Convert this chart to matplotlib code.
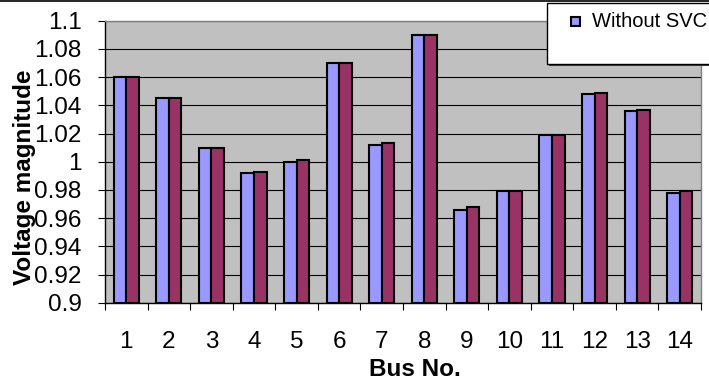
import numpy as np
import matplotlib
matplotlib.use("Agg")
import matplotlib.pyplot as plt
from matplotlib.patches import Rectangle
from matplotlib.lines import Line2D

plt.rcParams['font.family'] = ['Liberation Sans', 'DejaVu Sans']

buses = [str(i) for i in range(1, 15)]
without_svc = [1.060, 1.045, 1.010, 0.992, 1.000, 1.070, 1.012, 1.090,
               0.966, 0.979, 1.019, 1.048, 1.036, 0.978]
with_svc = [1.060, 1.045, 1.010, 0.993, 1.001, 1.070, 1.013, 1.090,
            0.968, 0.979, 1.019, 1.049, 1.037, 0.979]
y_ticks = [0.9, 0.92, 0.94, 0.96, 0.98, 1.0, 1.02, 1.04, 1.06, 1.08, 1.1]
y_tick_labels = ['0.9', '0.92', '0.94', '0.96', '0.98', '1', '1.02',
                 '1.04', '1.06', '1.08', '1.1']

W, H = 709, 383
fig = plt.figure(figsize=(W / 100, H / 100), dpi=100)
fig.patch.set_facecolor('white')

ax = fig.add_axes([105 / W, 1 - 302.7 / H, (701 - 105) / W, (302.7 - 20.7) / H])
ax.set_facecolor('#C0C0C0')

base = 0.9
x = np.arange(len(buses))
bw = 0.294
ax.bar(x - bw / 2, np.array(without_svc) - base, bw, bottom=base,
       color='#9999FF', edgecolor='black', linewidth=1.5, zorder=3,
       label='Without SVC')
ax.bar(x + bw / 2, np.array(with_svc) - base, bw, bottom=base,
       color='#993366', edgecolor='black', linewidth=1.5, zorder=3,
       label='With SVC')

ax.set_xlim(-0.5, len(buses) - 0.5)
ax.set_ylim(0.9, 1.1)
ax.set_yticks(y_ticks)
ax.set_yticklabels(y_tick_labels, fontsize=17.5)
ax.yaxis.grid(True, color='black', linewidth=0.8, zorder=1)
ax.set_axisbelow(True)

ax.set_xticks(x)
ax.set_xticklabels(buses, fontsize=17.5)
ax.set_xticks(np.arange(-0.5, len(buses)), minor=True)
ax.tick_params(axis='x', which='major', length=0, pad=20.5)
ax.tick_params(axis='x', which='minor', length=5, width=0.8, direction='out')
ax.tick_params(axis='y', length=5, width=0.8, direction='out', pad=12)

for side in ('top', 'right'):
    ax.spines[side].set_color('#808080')
    ax.spines[side].set_linewidth(1.0)
for side in ('left', 'bottom'):
    ax.spines[side].set_color('black')
    ax.spines[side].set_linewidth(1.0)

fig.text(25 / W, 1 - 177.5 / H, 'Voltage magnitude', rotation=90,
         ha='center', va='center', fontsize=17.5, fontweight='bold')
fig.text(415 / W, 1 - 370 / H, 'Bus No.', ha='center', va='center',
         fontsize=17.5, fontweight='bold')

# legend box with drop shadow
lx0, ly0, lx1, ly1 = 547, 3, 720, 64
fig.patches.append(Rectangle(((lx0 + 2) / W, 1 - (ly1 + 2) / H),
                             (lx1 - lx0) / W, (ly1 - ly0) / H,
                             transform=fig.transFigure, facecolor='#404040',
                             edgecolor='none', zorder=5))
fig.patches.append(Rectangle((lx0 / W, 1 - ly1 / H),
                             (lx1 - lx0) / W, (ly1 - ly0) / H,
                             transform=fig.transFigure, facecolor='white',
                             edgecolor='black', linewidth=1.0, zorder=6))
fig.patches.append(Rectangle((570.5 / W, 1 - 26 / H), 9 / W, 9 / H,
                             transform=fig.transFigure, facecolor='#9999FF',
                             edgecolor='black', linewidth=1.5, zorder=7))
fig.text(592 / W, 1 - 21.5 / H, 'Without SVC', ha='left', va='center',
         fontsize=14.5, zorder=8)

fig.lines.append(Line2D([0, 1], [1 - 0.8 / H, 1 - 0.8 / H],
                        transform=fig.transFigure, color='black', linewidth=1.2))

fig.savefig('out.png', dpi=100)
